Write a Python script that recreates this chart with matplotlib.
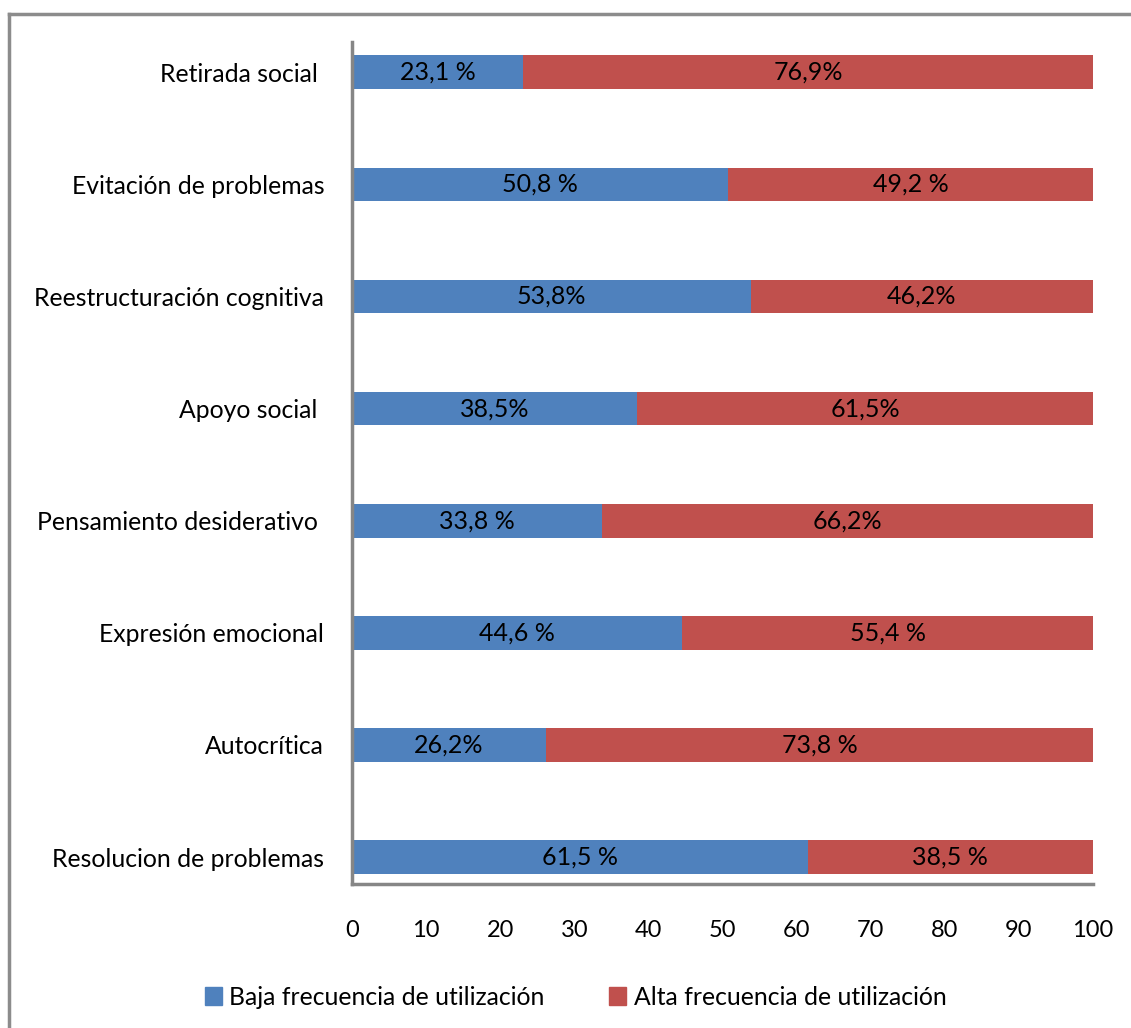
import numpy as np
import matplotlib.pyplot as plt
from matplotlib.lines import Line2D
from matplotlib.patches import Patch

categorias = ['Resolucion de problemas', 'Autocrítica', 'Expresión emocional',
              'Pensamiento desiderativo ', 'Apoyo social ', 'Reestructuración cognitiva',
              'Evitación de problemas', 'Retirada social ']
baja = [61.5, 26.2, 44.6, 33.8, 38.5, 53.8, 50.8, 23.1]
alta = [38.5, 73.8, 55.4, 66.2, 61.5, 46.2, 49.2, 76.9]
etiquetas_baja = ['61,5 %', '26,2%', '44,6 %', '33,8 %', '38,5%', '53,8%', '50,8 %', '23,1 %']
etiquetas_alta = ['38,5 %', '73,8 %', '55,4 %', '66,2%', '61,5%', '46,2%', '49,2 %', '76,9%']
series = ['Baja frecuencia de utilización', 'Alta frecuencia de utilización']
colores = ['#4F81BD', '#C0504D']

plt.rcParams['font.family'] = ['Lato', 'DejaVu Sans']

fig = plt.figure(figsize=(11.31, 10.28), dpi=100)
ax = fig.add_axes([0.3112, 0.1401, 0.6552, 0.8190])

y = np.arange(len(categorias))
b1 = ax.barh(y, baja, height=0.3, color=colores[0])
b2 = ax.barh(y, alta, left=baja, height=0.3, color=colores[1])
ax.bar_label(b1, labels=etiquetas_baja, label_type='center', fontsize=18, color='black')
ax.bar_label(b2, labels=etiquetas_alta, label_type='center', fontsize=18, color='black')

ax.set_xlim(0, 100)
ax.set_ylim(-0.24, 7.27)
ax.set_xticks(np.arange(0, 101, 10))
ax.set_yticks(y)
ax.set_yticklabels(categorias, fontsize=17.8)
ax.tick_params(axis='x', labelsize=17, length=0, pad=26)
ax.tick_params(axis='y', length=0, pad=20)
for s in ['top', 'right']:
    ax.spines[s].set_visible(False)
for s in ['left', 'bottom']:
    ax.spines[s].set_color('#868686')
    ax.spines[s].set_linewidth(2.5)

handles = [Patch(color=c) for c in colores]
fig.legend(handles, series, loc='center', bbox_to_anchor=(0.509, 0.03), ncol=2,
           frameon=False, fontsize=17.8, handlelength=0.7, handleheight=0.7,
           handletextpad=0.3, columnspacing=2.6)

# marco del grafico
fig.add_artist(Line2D([0.008, 1.0], [0.9864, 0.9864], color='#8c8c8c', lw=2.5))
fig.add_artist(Line2D([0.008, 0.008], [0.0, 0.9864], color='#8c8c8c', lw=2.5))

fig.savefig('out.png', dpi=100)
